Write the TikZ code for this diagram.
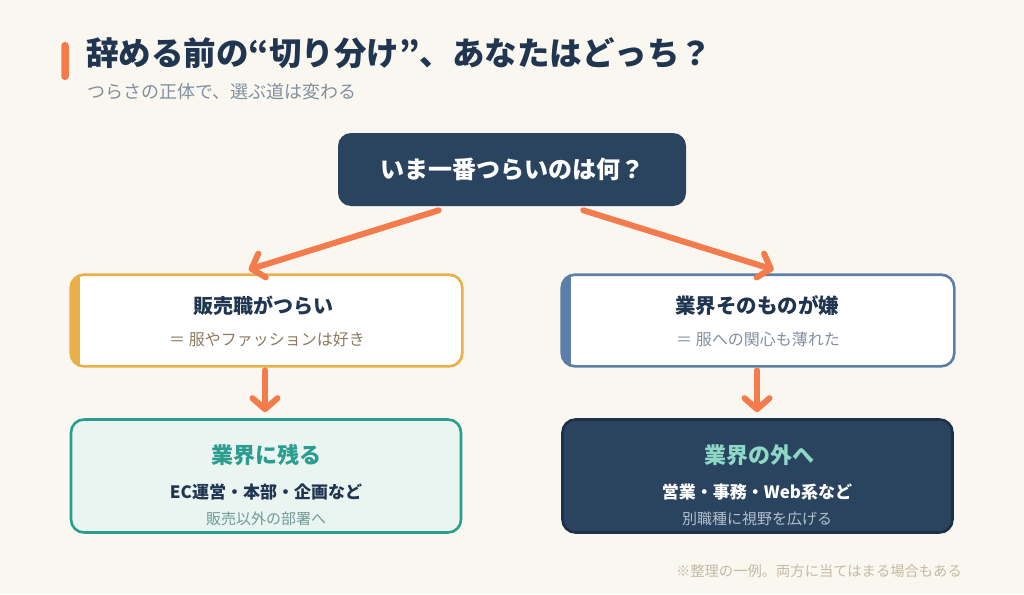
\documentclass[tikz,border=0pt]{standalone}
\usepackage{fontspec}
\setmainfont{Noto Sans CJK JP}
\usetikzlibrary{arrows.meta,calc}
\definecolor{bgc}{HTML}{FAF7F0}
\definecolor{navy}{HTML}{2A4460}
\definecolor{ink}{HTML}{1F3550}
\definecolor{arr}{HTML}{F47B4B}
\definecolor{ylw}{HTML}{E9B04A}
\definecolor{steel}{HTML}{5B7FA8}
\definecolor{teal}{HTML}{2A9D8F}
\definecolor{tealbg}{HTML}{EAF4F1}
\definecolor{mint}{HTML}{8ED8C6}
\definecolor{gry}{HTML}{8190A0}
\definecolor{brn}{HTML}{8C7B5C}
\definecolor{tgry}{HTML}{6E9C96}
\definecolor{lgry}{HTML}{B3C0CC}
\definecolor{foot}{HTML}{C6B9A4}
\definecolor{darkb}{HTML}{1C3048}
\tikzset{
  box/.style={rectangle, rounded corners=13pt, inner sep=0pt, line width=2.6pt},
  flow/.style={draw=arr, line width=6pt, line cap=round,
    -{Straight Barb[length=11pt,width=25pt,round]}},
  txt/.style={inner sep=0pt, anchor=center},
  fs/.style={font=\fontsize{#1}{#1}\selectfont},
  fsb/.style={font=\fontsize{#1}{#1}\selectfont\bfseries}
}
\begin{document}
\begin{tikzpicture}[x=1pt,y=-1pt]
\useasboundingbox (0,0) rectangle (1024,594);
\fill[bgc] (0,0) rectangle (1024,594);
% title
\node[fill=arr, rounded corners=3.5pt, minimum width=7.5pt, minimum height=38pt, inner sep=0pt] (bar) at (65,61) {};
\node[txt, anchor=west, fsb=32.5, text=ink] (title) at (86,53) {辞める前の“切り分け”、あなたはどっち？};
\node[txt, anchor=west, fs=18, text=gry] (sub) at (87,92) {つらさの正体で、選ぶ道は変わる};
% top
\node[box, fill=navy, minimum width=348pt, minimum height=73pt] (top) at (512,169.5) {};
\node[txt, fsb=24, text=white] (toptxt) at (top) {いま一番つらいのは何？};
% left middle
\node[box, fill=white, minimum width=389pt, minimum height=89pt] (L) at (266.5,320.5) {};
\begin{scope}
\clip[rounded corners=13pt] (L.north west) rectangle (L.south east);
\fill[ylw] (L.north west) rectangle ($(L.south west)+(9,0)$);
\end{scope}
\draw[box, draw=ylw] (L.north west) rectangle (L.south east);
\node[txt, fsb=20, text=ink] (Lt) at (263,306) {販売職がつらい};
\node[txt, fs=16, text=brn] (Ls) at (267,339) {＝ 服やファッションは好き};
% right middle
\node[box, fill=white, minimum width=390pt, minimum height=89pt] (R) at (758,320.5) {};
\begin{scope}
\clip[rounded corners=13pt] (R.north west) rectangle (R.south east);
\fill[steel] (R.north west) rectangle ($(R.south west)+(9,0)$);
\end{scope}
\draw[box, draw=steel] (R.north west) rectangle (R.south east);
\node[txt, fsb=20.5, text=ink] (Rt) at (757,306) {業界そのものが嫌};
\node[txt, fs=16, text=gry] (Rs) at (758,339) {＝ 服への関心も薄れた};
% bottom left
\node[box, draw=teal, fill=tealbg, minimum width=390pt, minimum height=113pt] (BL) at (266,476) {};
\node[txt, fsb=22, text=teal] (BLt) at (266,455) {業界に残る};
\node[txt, fsb=17, text=ink] (BLm) at (266,492) {EC運営・本部・企画など};
\node[txt, fs=15, text=tgry] (BLs) at (266,519) {販売以外の部署へ};
% bottom right
\node[box, draw=darkb, fill=navy, minimum width=390pt, minimum height=113pt] (BR) at (757.5,476) {};
\node[txt, fsb=22, text=mint] (BRt) at (759,455) {業界の外へ};
\node[txt, fsb=17, text=white] (BRm) at (757,492) {営業・事務・Web系など};
\node[txt, fs=15, text=lgry] (BRs) at (757,519) {別職種に視野を広げる};
% footnote
\node[txt, anchor=east, fs=14.3, text=foot] (fn) at (962,571) {※整理の一例。両方に当てはまる場合もある};
% arrows
\draw[flow] ($(top.south west)+(102,3)$) -- ($(L.north west)+(178,-5)$);
\draw[flow] ($(top.south east)+(-104,3)$) -- ($(R.north west)+(212,-5)$);
\draw[flow] ($(L.south)+(-1.5,4)$) -- ($(BL.north)+(-1,-6)$);
\draw[flow] ($(R.south)+(-1,4)$) -- ($(BR.north)+(-0.5,-6)$);
\end{tikzpicture}
\end{document}
